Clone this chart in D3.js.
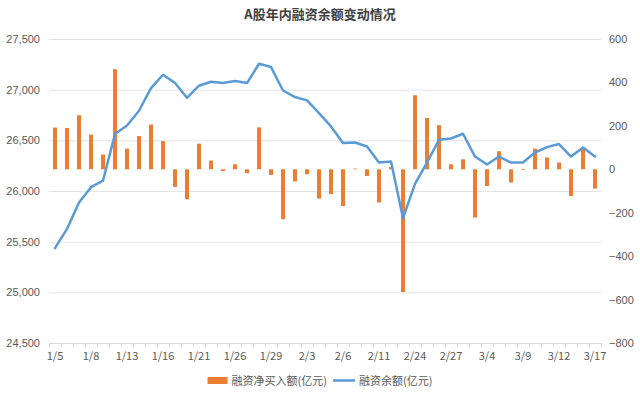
<!DOCTYPE html>
<html>
<head>
<meta charset="utf-8">
<script src="https://cdn.jsdelivr.net/npm/d3@7"></script>
<style>
  body { margin: 0; background: #fff; }
  svg { font-family: "Noto Sans CJK SC", "Noto Sans", sans-serif; }
</style>
</head>
<body>
<div id="chart"></div>
<script>
// trading days shown on the x axis
const dates = ['1/5','1/6','1/7','1/8','1/9','1/12','1/13','1/14','1/15','1/16',
    '1/19','1/20','1/21','1/22','1/23','1/26','1/27','1/28','1/29','1/30',
    '2/2','2/3','2/4','2/5','2/6','2/9','2/10','2/11','2/12','2/13',
    '2/24','2/25','2/26','2/27','3/2','3/3','3/4','3/5','3/6','3/9',
    '3/10','3/11','3/12','3/13','3/16','3/17'];

// 融资净买入额 (亿元), right axis
const netBuy = [192,190,249,160,68,461,95,153,206,130,
    -81,-138,118,40,-8,23,-18,193,-26,-230,
    -56,-23,-135,-114,-169,3,-31,-153,10,-565,
    341,236,203,23,46,-222,-77,83,-61,-3,
    95,54,31,-123,95,-89];

// 融资余额 (亿元), left axis
const balance = [25436,25626,25886,26038,26103,26562,26647,26792,27016,27147,
    27065,26920,27039,27078,27065,27085,27065,27256,27223,26992,
    26927,26894,26769,26637,26473,26479,26439,26281,26290,25732,
    26071,26281,26505,26518,26565,26340,26261,26340,26281,26281,
    26380,26433,26463,26340,26430,26340];

const leftTicks = [24500, 25000, 25500, 26000, 26500, 27000, 27500];
const rightTicks = [-800, -600, -400, -200, 0, 200, 400, 600];

const width = 640;
const height = 398;
const plot = {left: 49, right: 601, top: 39, bottom: 343};

const svg = d3.select('#chart').append('svg')
    .attr('width', width)
    .attr('height', height);

const x = d3.scaleBand()
    .domain(dates)
    .range([plot.left, plot.right]);

const yLeft = d3.scaleLinear()
    .domain([leftTicks[0], leftTicks[leftTicks.length - 1]])
    .range([plot.bottom, plot.top]);

const yRight = d3.scaleLinear()
    .domain([rightTicks[0], rightTicks[rightTicks.length - 1]])
    .range([plot.bottom, plot.top]);

// title
svg.append('text')
    .attr('x', width / 2)
    .attr('y', 19)
    .attr('text-anchor', 'middle')
    .style('font-size', '13px')
    .style('font-weight', 'bold')
    .style('fill', '#404040')
    .text('A股年内融资余额变动情况');

// horizontal gridlines follow the left axis
svg.append('g')
    .selectAll('line')
    .data(leftTicks.slice(1))
    .enter().append('line')
    .attr('x1', plot.left)
    .attr('x2', plot.right)
    .attr('y1', d => yLeft(d) + 0.5)
    .attr('y2', d => yLeft(d) + 0.5)
    .attr('stroke', '#e4e4e4')
    .attr('stroke-width', 1);

// left axis labels
const leftAxis = svg.append('g')
    .attr('transform', `translate(${plot.left - 6},0)`)
    .call(d3.axisLeft(yLeft).tickValues(leftTicks).tickSize(0).tickFormat(d3.format(',')));
leftAxis.select('.domain').remove();
leftAxis.selectAll('text')
    .style('font-size', '11px')
    .style('fill', '#595959');

// right axis labels
const rightAxis = svg.append('g')
    .attr('transform', `translate(${plot.right + 8},0)`)
    .call(d3.axisRight(yRight).tickValues(rightTicks).tickSize(0));
rightAxis.select('.domain').remove();
rightAxis.selectAll('text')
    .attr('x', 0)
    .style('font-size', '11px')
    .style('fill', '#595959');

// x axis with a tick between every category
const xAxis = svg.append('g')
    .attr('transform', `translate(0,${plot.bottom})`);
xAxis.append('line')
    .attr('x1', plot.left)
    .attr('x2', plot.right)
    .attr('y1', 0.5)
    .attr('y2', 0.5)
    .attr('stroke', '#d9d9d9');
xAxis.selectAll('.tick-mark')
    .data(dates.concat(['end']))
    .enter().append('line')
    .attr('class', 'tick-mark')
    .attr('x1', (d, i) => Math.round(plot.left + i * x.bandwidth()) + 0.5)
    .attr('x2', (d, i) => Math.round(plot.left + i * x.bandwidth()) + 0.5)
    .attr('y1', 0)
    .attr('y2', 4)
    .attr('stroke', '#d9d9d9');
xAxis.selectAll('.tick-label')
    .data(dates.filter((d, i) => i % 3 === 0))
    .enter().append('text')
    .attr('class', 'tick-label')
    .attr('x', d => x(d) + x.bandwidth() / 2)
    .attr('y', 17)
    .attr('text-anchor', 'middle')
    .style('font-size', '11px')
    .style('fill', '#595959')
    .text(d => d);

// net buy bars
const barWidth = 4;
svg.append('g')
    .selectAll('rect')
    .data(netBuy)
    .enter().append('rect')
    .attr('x', (d, i) => x(dates[i]) + (x.bandwidth() - barWidth) / 2)
    .attr('y', d => yRight(Math.max(0, d)))
    .attr('width', barWidth)
    .attr('height', d => Math.abs(yRight(d) - yRight(0)))
    .attr('fill', '#ED7D31');

// balance line
const line = d3.line()
    .x((d, i) => x(dates[i]) + x.bandwidth() / 2)
    .y(d => yLeft(d));

svg.append('path')
    .datum(balance)
    .attr('d', line)
    .attr('fill', 'none')
    .attr('stroke', '#5B9BD5')
    .attr('stroke-width', 2.5)
    .attr('stroke-linejoin', 'round')
    .attr('stroke-linecap', 'round');

// legend
const legend = svg.append('g').attr('transform', 'translate(0,381)');
const item1 = legend.append('g');
item1.append('rect')
    .attr('x', 0).attr('y', -4)
    .attr('width', 20).attr('height', 7)
    .attr('fill', '#ED7D31');
const t1 = item1.append('text')
    .attr('x', 24).attr('y', 4)
    .style('font-size', '11px')
    .style('fill', '#595959')
    .text('融资净买入额(亿元)');

const item2 = legend.append('g');
item2.append('line')
    .attr('x1', 0).attr('x2', 22)
    .attr('y1', -0.5).attr('y2', -0.5)
    .attr('stroke', '#5B9BD5')
    .attr('stroke-width', 2.5);
const t2 = item2.append('text')
    .attr('x', 26).attr('y', 4)
    .style('font-size', '11px')
    .style('fill', '#595959')
    .text('融资余额(亿元)');

// center the two legend items
const w1 = 24 + t1.node().getComputedTextLength();
const w2 = 26 + t2.node().getComputedTextLength();
const gap = 6;
const startX = (width - (w1 + gap + w2)) / 2;
item1.attr('transform', `translate(${startX},0)`);
item2.attr('transform', `translate(${startX + w1 + gap},0)`);
</script>
</body>
</html>
